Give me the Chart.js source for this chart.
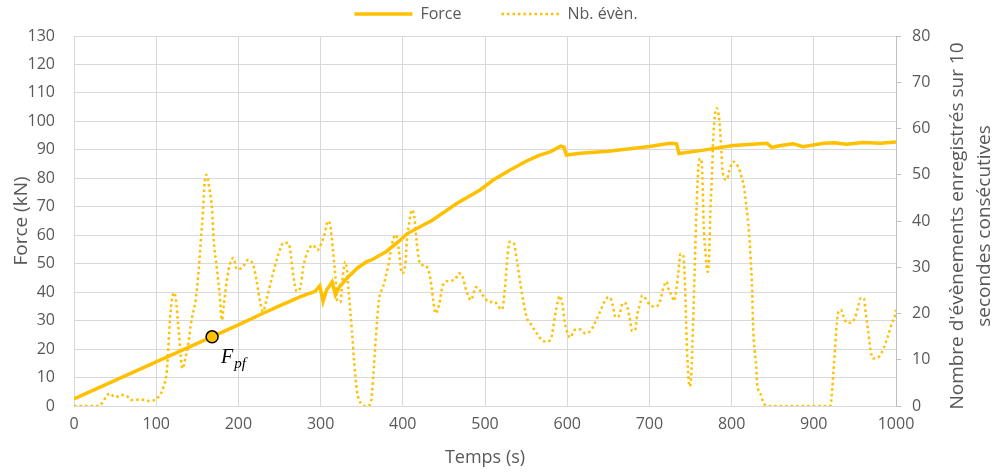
<!DOCTYPE html>
<html>
<head>
<meta charset="utf-8">
<script src="https://cdn.jsdelivr.net/npm/chart.js@4"></script>
<style>
  body { margin: 0; background: #fff; }
  canvas { display: block; }
</style>
</head>
<body>
<canvas id="chart" width="992" height="472"></canvas>
<script>
// Force (kN) vs time
var forceTime = [0, 50, 100, 150, 200, 230, 250, 275, 283, 293, 299, 303, 307, 314, 318, 323, 332, 345, 356, 362, 380, 397, 405, 429, 435, 466, 494, 510, 530, 550, 565, 580, 592, 596, 599, 616, 650, 700, 725, 733, 736, 766, 802, 843, 849, 862, 875, 887, 912, 925, 940, 960, 981, 1000];
var forceValues = [2.5, 9, 15.5, 22, 28.5, 32.6, 35.2, 38.3, 39.2, 40.2, 42.2, 36.8, 40.6, 43.6, 39, 41.9, 44.9, 48.5, 50.7, 51.3, 54.3, 58.3, 60.5, 64.2, 65.1, 71.2, 75.9, 79.4, 82.8, 86, 88, 89.4, 91.3, 91, 88.2, 88.8, 89.5, 91.2, 92.3, 92.1, 88.7, 89.9, 91.5, 92.3, 90.9, 91.6, 92.1, 91.1, 92.3, 92.5, 92, 92.6, 92.3, 92.8];

// Nb. d'évènements sur 10 s (axe de droite)
var nbTime = [0, 19, 30, 38, 43, 50, 58, 64, 70, 82, 90, 103, 109, 113, 117, 119, 122, 124, 127, 132, 135, 139, 143, 148, 151, 154, 157, 159, 161, 165, 168, 170, 174, 177, 180, 182, 186, 190, 194, 198, 204, 212, 218, 222, 226, 230, 234, 240, 249, 255, 261, 264, 267, 271, 275, 279, 285, 291, 296, 301, 305, 309, 312, 315, 318, 320, 324, 327, 330, 332, 334, 338, 341, 344, 349, 356, 361, 364, 367, 371, 376, 382, 388, 392, 395, 399, 403, 405, 408, 411, 414, 417, 421, 428, 432, 435, 437, 440, 444, 449, 457, 464, 468, 473, 477, 483, 489, 495, 499, 505, 512, 516, 521, 524, 527, 530, 535, 539, 543, 547, 551, 555, 563, 569, 575, 581, 585, 589, 591, 594, 597, 601, 604, 608, 615, 622, 629, 633, 640, 647, 652, 655, 659, 663, 668, 672, 676, 679, 683, 685, 689, 691, 696, 701, 708, 713, 717, 721, 723, 727, 730, 733, 735, 738, 741, 743, 744, 746, 749, 751, 753, 755, 757, 760, 762, 764, 765, 766, 768, 771, 773, 774, 776, 778, 780, 782, 785, 787, 789, 791, 794, 797, 802, 808, 812, 815, 818, 821, 823, 825, 826, 828, 830, 831, 835, 839, 845, 920, 922, 924, 926, 928, 930, 933, 936, 940, 946, 950, 953, 957, 961, 963, 966, 969, 972, 980, 985, 990, 995, 999, 1000];
var nbValues = [0, 0, 0, 1.7, 2.7, 1.9, 2.4, 2.2, 1.3, 1.4, 1.1, 2.0, 4.2, 7.8, 19.3, 22.9, 24.5, 22.9, 17.1, 8.1, 9.9, 13.5, 18.6, 22.9, 28, 35, 42.4, 48.5, 50, 46.7, 42.4, 35.9, 29.4, 24.4, 18.6, 21.5, 27.2, 30.8, 32, 29.6, 29.8, 31.6, 30.5, 27.2, 22.9, 20.4, 22.9, 27.2, 33, 35.3, 35.2, 32.3, 28, 24.8, 25.4, 30.1, 33.7, 34.8, 33.7, 35.2, 37.3, 40, 38.8, 33.7, 28, 22.9, 22.5, 28, 31.2, 29.4, 25.1, 16.4, 9.2, 3.5, 0.6, 0, 0.6, 6.3, 14.3, 22.9, 25.8, 30.1, 35.9, 37, 34, 28.7, 30.5, 35.9, 39.8, 42.4, 40.9, 35.2, 30.8, 30.3, 28.8, 25.8, 22.9, 20, 21.8, 26.2, 27.1, 27.4, 28.7, 27.8, 25.1, 22.9, 25.7, 24.7, 23.5, 22.5, 22.5, 21.5, 20.9, 25.1, 31.6, 35.5, 35.2, 31.2, 26.5, 22.2, 19, 17.9, 15.7, 14.3, 13.9, 15, 19.3, 22.9, 23.8, 22.2, 18.2, 15.4, 14.8, 16.3, 16.6, 15.7, 16.4, 17.7, 20.4, 23.1, 23.5, 22, 19.2, 19.5, 22.3, 22, 19.1, 16.2, 16.6, 19.5, 22.3, 23.9, 23.1, 21.8, 21.5, 22.7, 25.6, 26.9, 25.4, 24, 22.7, 25.4, 28.5, 32.9, 32.6, 28, 22.2, 11, 4.2, 7, 17, 29, 41, 52.5, 53.5, 51.7, 46.7, 39.5, 33.7, 29, 33.7, 40.9, 49.6, 59, 63.3, 64.4, 61.8, 56.8, 51, 49.2, 48.9, 50.7, 52.8, 51.7, 49.6, 47.4, 43.1, 38, 32.3, 25.1, 17.9, 12.1, 8.5, 4.9, 2.7, 0.6, 0, 0, 2.7, 7.8, 12.8, 17.9, 20.4, 20.8, 19.5, 18, 18, 19.1, 20.8, 23.3, 23.3, 20.4, 16.4, 12.1, 10.3, 10.8, 12.5, 15, 17.9, 19.7, 20.8];

// point F_pf
var pfTime = [168];
var pfForce = [24.3];

var seriesNames = ['Force', 'Nb. évèn.'];
var xTitle = 'Temps (s)';
var yTitle = 'Force (kN)';
var y1Title = ["Nombre d'évènements enregistrés sur 10", 'secondes consécutives'];

var gold = '#FFC000';
var textColor = '#595959';
var gridColor = '#D9D9D9';
var fontFamily = "'Open Sans', 'Noto Sans', sans-serif";

function toPoints(xs, ys) {
    var pts = [];
    for (var i = 0; i < xs.length; i++) {
        pts.push({x: xs[i], y: ys[i]});
    }
    return pts;
}

// right axis title reads bottom-to-top, like the left one
var rightTitlePlugin = {
    id: 'rightTitle',
    afterDraw: function(chart) {
        var ctx = chart.ctx;
        var area = chart.chartArea;
        ctx.save();
        ctx.fillStyle = textColor;
        ctx.font = '19px ' + fontFamily;
        ctx.textAlign = 'center';
        ctx.textBaseline = 'middle';
        ctx.translate(958, (area.top + area.bottom) / 2 + 5);
        ctx.rotate(-Math.PI / 2);
        ctx.fillText(y1Title[0], 0, 0);
        ctx.fillText(y1Title[1], 0, 27);
        ctx.restore();
    }
};

// label next to the F_pf point
var pfLabelPlugin = {
    id: 'pfLabel',
    afterDatasetsDraw: function(chart) {
        var ctx = chart.ctx;
        var px = chart.scales.x.getPixelForValue(pfTime[0]);
        var py = chart.scales.y.getPixelForValue(pfForce[0]);
        ctx.save();
        ctx.fillStyle = '#000';
        ctx.textBaseline = 'alphabetic';
        ctx.font = 'italic 20px "Liberation Serif", "DejaVu Serif", serif';
        ctx.fillText('F', px + 9, py + 26);
        var w = ctx.measureText('F').width;
        ctx.font = 'italic 15px "Liberation Serif", "DejaVu Serif", serif';
        ctx.fillText('pf', px + 9 + w + 1, py + 31);
        ctx.restore();
    }
};

// nudge legend up a bit
var legendShift = {
    id: 'legendShift',
    afterLayout: function(chart) {
        chart.legend.top -= 4;
        chart.legend.bottom -= 4;
    }
};

var ctx = document.getElementById('chart').getContext('2d');
var myChart = new Chart(ctx, {
    type: 'scatter',
    data: {
        datasets: [{
            label: seriesNames[0],
            data: toPoints(forceTime, forceValues),
            showLine: true,
            borderColor: gold,
            backgroundColor: gold,
            borderWidth: 3.5,
            pointRadius: 0,
            tension: 0,
            yAxisID: 'y',
            order: 1
        }, {
            label: seriesNames[1],
            data: toPoints(nbTime, nbValues),
            showLine: true,
            borderColor: gold,
            backgroundColor: gold,
            borderWidth: 2.5,
            borderDash: [2.5, 3],
            pointRadius: 0,
            cubicInterpolationMode: 'monotone',
            yAxisID: 'y1',
            order: 2
        }, {
            label: 'Fpf',
            data: toPoints(pfTime, pfForce),
            showLine: false,
            pointRadius: 6,
            pointBackgroundColor: gold,
            pointBorderColor: '#000',
            pointBorderWidth: 1.5,
            yAxisID: 'y',
            order: 0
        }]
    },
    options: {
        responsive: false,
        animation: false,
        layout: { padding: { top: -30, left: 0, right: 0, bottom: 0 } },
        plugins: {
            legend: {
                position: 'top',
                labels: {
                    usePointStyle: true,
                    pointStyle: 'line',
                    pointStyleWidth: 58,
                    padding: 40,
                    color: textColor,
                    font: { family: fontFamily, size: 16 },
                    filter: function(item) { return item.datasetIndex < 2; },
                    generateLabels: function(chart) {
                        var items = Chart.defaults.plugins.legend.labels.generateLabels(chart);
                        items.forEach(function(item) {
                            var ds = chart.data.datasets[item.datasetIndex];
                            item.lineWidth = ds.borderWidth;
                            item.lineDash = ds.borderDash || [];
                            item.strokeStyle = ds.borderColor;
                        });
                        return items;
                    }
                }
            },
            tooltip: { enabled: false }
        },
        scales: {
            x: {
                type: 'linear',
                min: 0,
                max: 1000,
                ticks: {
                    stepSize: 100, color: textColor, padding: 9, font: { family: fontFamily, size: 16 },
                    callback: function(value) { return String(value); }
                },
                grid: { color: gridColor, drawTicks: false },
                border: { color: gridColor },
                title: { display: true, text: xTitle, color: textColor, padding: { top: 4, bottom: 3 }, font: { family: fontFamily, size: 18 } },
                afterFit: function(scale) { scale.height = 66; }
            },
            y: {
                position: 'left',
                min: 0,
                max: 130,
                ticks: { stepSize: 10, color: textColor, padding: 19, font: { family: fontFamily, size: 16 } },
                grid: { color: gridColor, drawTicks: false },
                border: { color: gridColor },
                title: { display: true, text: yTitle, color: textColor, padding: { top: 10, bottom: 0 }, font: { family: fontFamily, size: 19 } },
                afterFit: function(scale) { scale.width = 74; scale.paddingTop = 36; }
            },
            y1: {
                position: 'right',
                min: 0,
                max: 80,
                ticks: { stepSize: 10, color: textColor, padding: 11, font: { family: fontFamily, size: 16 } },
                grid: { drawOnChartArea: false, color: '#BFBFBF', tickLength: 5 },
                border: { color: '#BFBFBF' },
                afterFit: function(scale) { scale.width = 96; }
            }
        }
    },
    plugins: [rightTitlePlugin, pfLabelPlugin, legendShift]
});
</script>
</body>
</html>
